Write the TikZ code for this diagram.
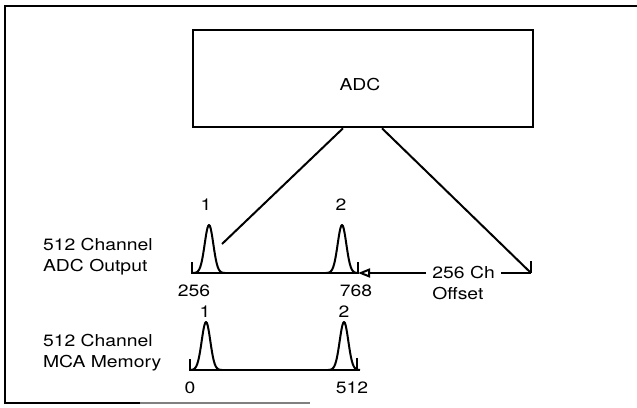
\documentclass[tikz,border=0pt]{standalone}
\usepackage{fontspec}
\setmainfont{TeX Gyre Heros}[FakeStretch=1.18]
\usetikzlibrary{arrows.meta,positioning}

\begin{document}
\begin{tikzpicture}[x=0.5pt, y=-0.5pt, font=\fontsize{8.2}{10.5}\selectfont,
  axis/.style={line width=1.2pt},
  peak/.style={line width=1pt, line join=round},
  feed/.style={line width=1pt}]

\useasboundingbox (0,0) rectangle (637,407);

% ---- Frame ----
\draw[line width=1pt] (637,6) -- (5,6) -- (5,403) -- (140,403);
\draw[line width=0.8pt, gray] (140,403) -- (310,403);

% ---- ADC block ----
\node[draw, line width=1.3pt, minimum width=170pt, minimum height=48.5pt, inner sep=0pt] (adc) at (363,78.5) {};
\node (adclbl) at (360,85) {ADC};

% ---- ADC output row (y=273) ----
\node[anchor=west, align=left] (outlbl) at (36,257) {512 Channel\\ADC Output};
\coordinate (o256) at (192,273);
\coordinate (o768) at (358,273);
\coordinate (rtick) at (531,273);
\coordinate (hit1) at (222,244);
\draw[axis] ([yshift=5.5pt]o256) -- (o256) -- (o768) -- ([yshift=5.5pt]o768);
\draw[axis] ([yshift=6pt]rtick) -- (rtick);

% Offset arrow, label sits in the line
\node[anchor=west, inner sep=3pt] (chofs) at (426,273) {256 Ch};
\node[anchor=west, inner sep=3pt] (offs) at (426,294) {Offset};
\draw[feed, -{Triangle[open, length=6pt, width=4.5pt]}] (chofs.west) -- (o768);
\draw[feed] (chofs.east) -- (rtick);

% Lines from the ADC
\draw[feed] ([xshift=-10pt]adc.south) -- (hit1);
\draw[feed] ([xshift=9.5pt]adc.south) -- (rtick);

\node (end256) at (194,291) {256};
\node (end768) at (356,291) {768};

% ---- MCA memory row (y=370) ----
\node[anchor=west, align=left] (memlbl) at (36,353) {512 Channel\\MCA Memory};
\coordinate (m0) at (190,370);
\coordinate (m512) at (357,370);
\draw[axis] ([yshift=5.5pt]m0) -- (m0) -- (m512) -- ([yshift=6pt]m512);

\node (end0) at (190,388) {0};
\node (end512) at (352,388) {512};

% ---- Peaks ----
\foreach \cx/\cy in {209/273, 342/273, 206/370, 344/370}
  \draw[peak] plot[domain=-16:16, samples=41, smooth] ({\cx+\x},{\cy-48*exp(-\x*\x/37)});

\node (pka) at (206,205) {1};
\node (pkb) at (341,205) {2};
\node (pkc) at (205,312) {1};
\node (pkd) at (344,312) {2};

\end{tikzpicture}
\end{document}
